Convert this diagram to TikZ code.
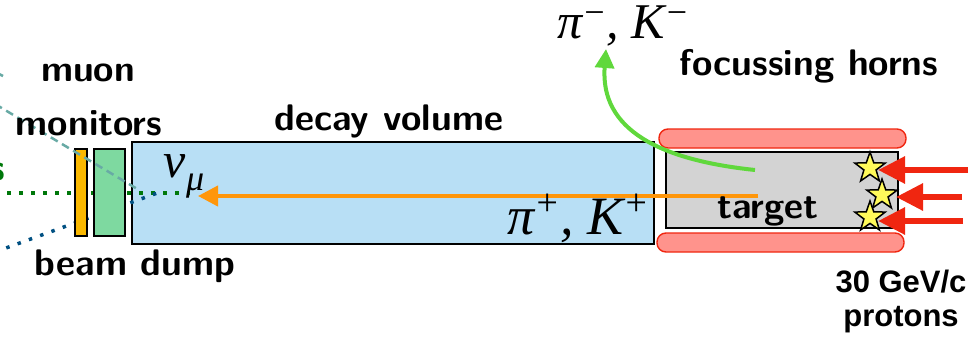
\RequirePackage{fix-cm}
\documentclass[tikz,border=0pt]{standalone}
\usepackage{amsmath}
\usepackage{fontspec}
\usetikzlibrary{arrows.meta}
\usetikzlibrary{shapes.geometric}
\newfontfamily\protonfont{Liberation Sans}
\newfontfamily\particlefont{Liberation Serif}
\definecolor{volblue}{RGB}{184,223,245}
\definecolor{dumpgreen}{RGB}{126,217,160}
\definecolor{monorange}{RGB}{250,184,0}
\definecolor{hornred}{RGB}{255,147,140}
\definecolor{edgered}{RGB}{240,38,16}
\definecolor{targetgrey}{RGB}{211,211,211}
\definecolor{pionorange}{RGB}{255,150,10}
\definecolor{piongreen}{RGB}{96,216,60}
\definecolor{tealdash}{RGB}{104,170,165}
\definecolor{bluedot}{RGB}{0,80,130}
\definecolor{greendot}{RGB}{0,120,10}
\definecolor{staryellow}{RGB}{255,250,90}
\tikzset{
	boxpart/.style={draw=black,line width=1.8pt,inner sep=0pt,outer sep=0pt},
	hornpart/.style={draw=edgered,fill=hornred,line width=1.4pt,rounded corners=9pt,inner sep=0pt,outer sep=0pt},
	starpart/.style={star,star points=5,star point ratio=2.5,draw=black,fill=staryellow,line width=1.5pt,inner sep=0pt,minimum size=32pt},
	textpart/.style={font=\fontsize{37}{44}\sffamily\bfseries,inner sep=0pt},
	protonlabel/.style={font=\fontsize{31}{37}\protonfont\bfseries,inner sep=0pt},
	protonarrow/.style={draw=edgered,line width=6pt,-{Triangle[length=27pt,width=26pt]}}
}
\begin{document}
\begin{tikzpicture}[x=1pt,y=-1pt]
	\useasboundingbox (0,0) rectangle (972,338);
	\clip (0,0) rectangle (972,338);
	\node[boxpart,fill=volblue,anchor=north west,minimum width=522pt,minimum height=102pt] (volume) at (132,142) {};
	\coordinate (greenstart) at (-5,193);
	\coordinate (greenend) at (190,193);
	\coordinate (bluestart) at (-5,252);
	\coordinate (blueend) at (160,192);
	\draw[greendot,line width=3.5pt,dash pattern=on 3.5pt off 8.5pt] (greenstart) -- (greenend);
	\draw[bluedot,line width=3.5pt,dash pattern=on 3.5pt off 8.5pt] (bluestart) -- (blueend);
	\node[boxpart,fill=monorange,anchor=north west,minimum width=12pt,minimum height=87pt] (monitor) at (75,149) {};
	\node[boxpart,fill=dumpgreen,anchor=north west,minimum width=31pt,minimum height=87pt] (dump) at (94,149) {};
	\coordinate (tealstart) at (-5,104);
	\coordinate (tealend) at (139,190);
	\coordinate (tealtop) at (-3,73);
	\coordinate (tealtopend) at (3,76);
	\draw[tealdash,line width=2.5pt,dash pattern=on 8pt off 5pt] (tealstart) -- (tealend);
	\draw[tealdash,line width=2.5pt] (tealtop) -- (tealtopend);
	\node[boxpart,fill=targetgrey,anchor=north west,minimum width=232pt,minimum height=76pt] (target) at (666,152) {};
	\node[hornpart,anchor=north west,minimum width=247pt,minimum height=19pt] (horntop) at (659,129) {};
	\node[hornpart,anchor=north west,minimum width=247pt,minimum height=19pt] (hornbottom) at (657,233) {};
	\node[starpart] (starb) at (882,195) {};
	\node[starpart] (stara) at (870,168) {};
	\node[starpart] (starc) at (870,217) {};
	\coordinate (protona) at (968,170);
	\coordinate (protonb) at (962,197);
	\coordinate (protonc) at (963,221);
	\coordinate (hita) at (878,170);
	\coordinate (hitb) at (896,197);
	\coordinate (hitc) at (878,221);
	\draw[protonarrow] (protona) -- (hita);
	\draw[protonarrow] (protonb) -- (hitb);
	\draw[protonarrow] (protonc) -- (hitc);
	\coordinate (pionstart) at (758,196);
	\coordinate (pionend) at (198,196);
	\coordinate (minusstart) at (755,170);
	\coordinate (minusend) at (606,49);
	\draw[pionorange,line width=4pt,-{Triangle[length=20pt,width=20pt]}] (pionstart) -- (pionend);
	\draw[piongreen,line width=4pt,-{Triangle[length=19pt,width=19pt]}] (minusstart) .. controls (660,160) and (600,130) .. (minusend);
	\node[textpart] (muon) at (88,73) {muon};
	\node[textpart] (monitors) at (89,123) {monitors};
	\node[textpart] (beamdump) at (135,266) {beam dump};
	\node[textpart] (decay) at (389,121) {decay volume};
	\node[textpart] (horns) at (809,66) {focussing horns};
	\node[textpart] (targetlabel) at (768,211) {target};
	\node[textpart,text=greendot,anchor=east] (muons) at (5,172) {s};
	\node[protonlabel] (energy) at (901,282) {30 GeV/c};
	\node[protonlabel] (protons) at (901,320) {protons};
	\node[font=\fontsize{50}{60}\particlefont\itshape,inner sep=0pt] (numu) at (184,176) {ν\raisebox{-13pt}{\fontsize{36}{40}\selectfont μ}};
	\node[font=\fontsize{54}{64}\particlefont\itshape,inner sep=0pt] (piplus) at (578,218) {π\raisebox{19pt}{\fontsize{38}{44}\selectfont +}, K\raisebox{19pt}{\fontsize{38}{44}\selectfont +}};
	\node[font=\fontsize{50}{60}\particlefont\itshape,inner sep=0pt] (piminus) at (623,26) {π\raisebox{14pt}{\fontsize{36}{42}\selectfont −}, K\raisebox{14pt}{\fontsize{36}{42}\selectfont −}};
\end{tikzpicture}
\end{document}
